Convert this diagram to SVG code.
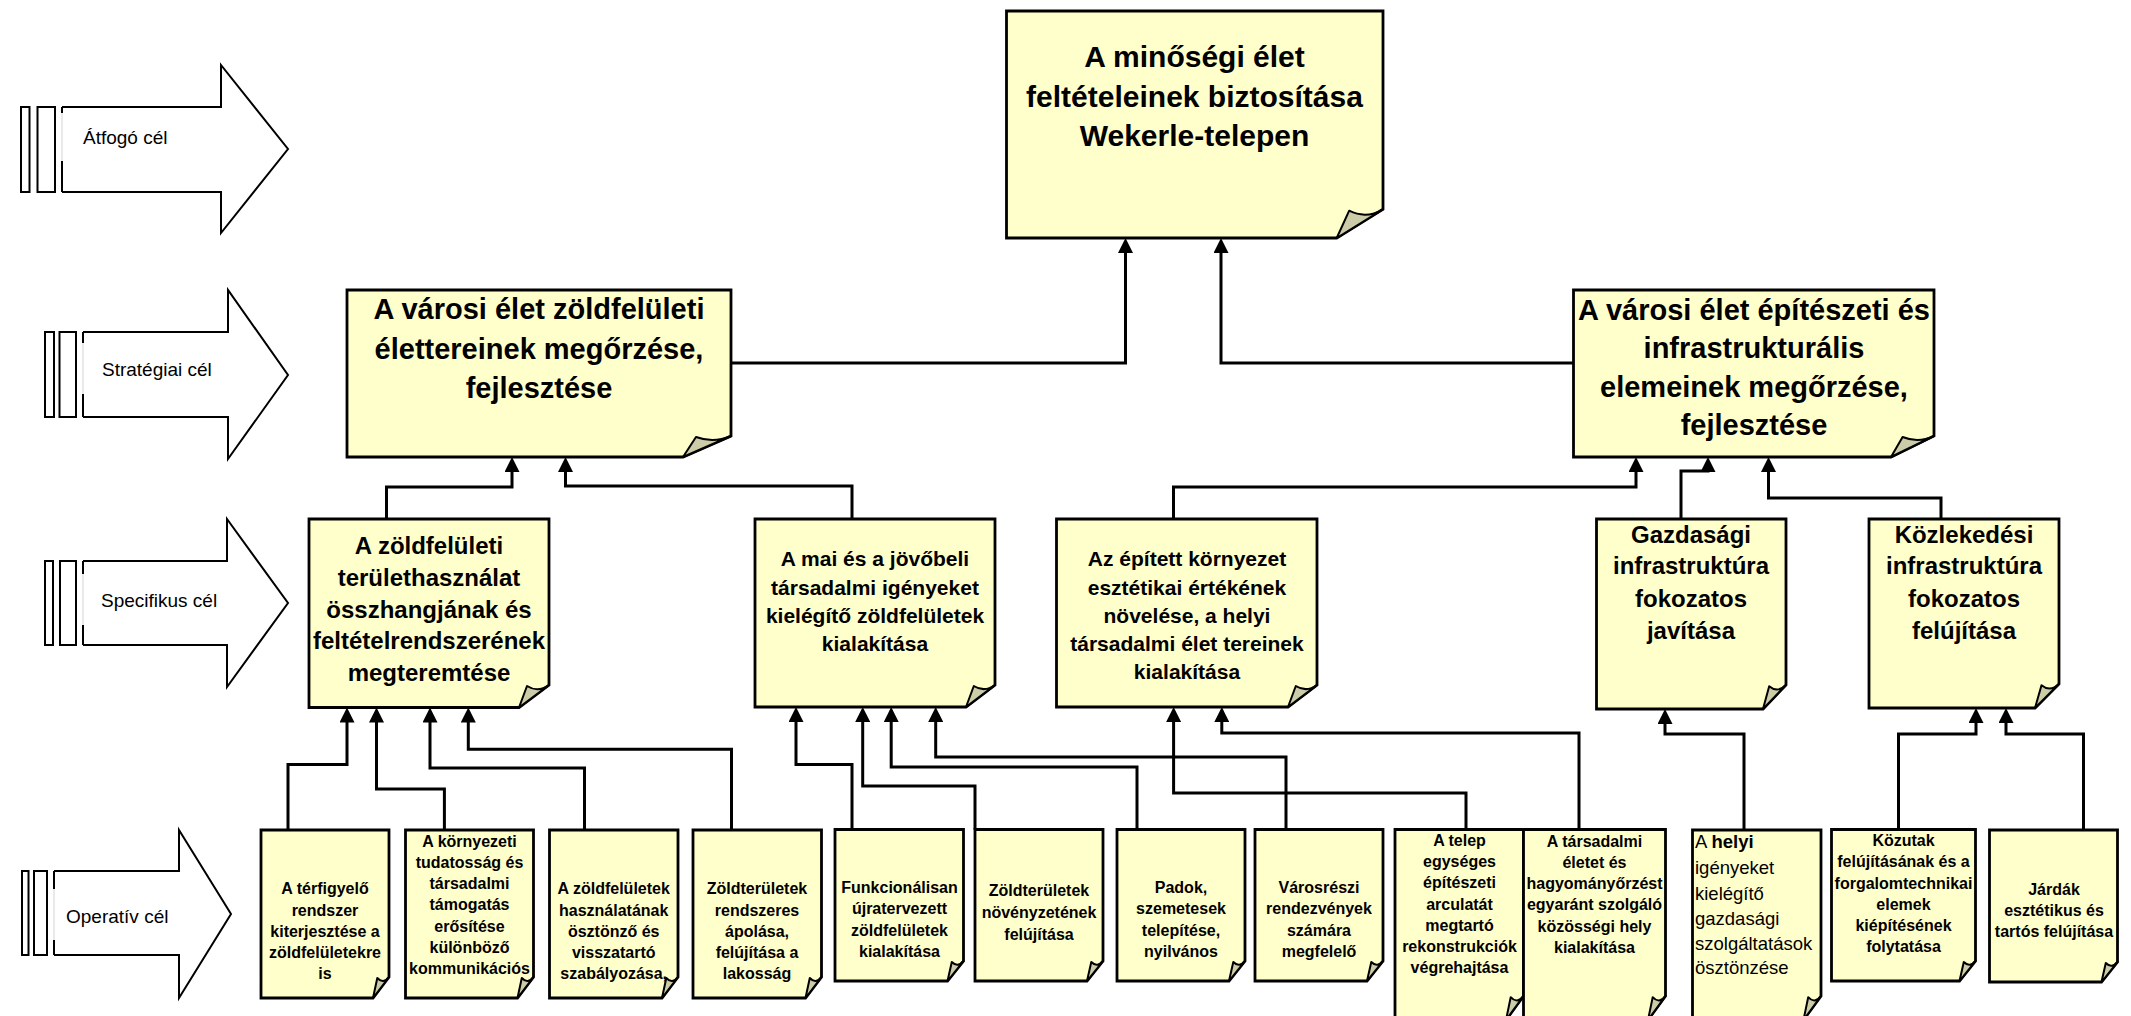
<svg xmlns="http://www.w3.org/2000/svg" width="2131" height="1016" viewBox="0 0 2131 1016">
<defs>
<style>
.box{fill:#FFFFCC;stroke:#000;stroke-width:2.8;stroke-linejoin:miter}
.fold{fill:#CCCCA8;stroke:#000;stroke-width:2;stroke-linejoin:round}
.conn{fill:none;stroke:#000;stroke-width:3;marker-end:url(#ah)}
.arr{fill:#fff;stroke:#000;stroke-width:2}
.bar{fill:#fff;stroke:#000;stroke-width:2}
.gap{stroke:#d4d4d4;stroke-width:1}
.lbl{font-family:"Liberation Sans",Arial,sans-serif;font-size:19px;fill:#000}
.t{font-family:"Liberation Sans",Arial,sans-serif;font-weight:bold;fill:#000;text-anchor:middle}
.t30{font-size:30px}.t29{font-size:29px}.t24{font-size:24px}.t21{font-size:21px}.t16{font-size:16px}
.r{font-family:"Liberation Sans",Arial,sans-serif;font-size:18.5px;fill:#000}
</style>
<marker id="ah" viewBox="0 0 15 15" refX="7" refY="7.5" markerWidth="15" markerHeight="15" markerUnits="userSpaceOnUse" orient="auto">
<path d="M0,0 L15,7.5 L0,15 Z" fill="#000"/>
</marker>
</defs>
<rect width="2131" height="1016" fill="#fff"/>

<g id="level-labels">
<g id="lbl-atfogo">
<rect class="bar" x="21" y="107" width="8.5" height="85"/>
<rect class="bar" x="37.5" y="107" width="17.5" height="85"/>
<polyline class="arr" points="62,107 221,107 221,65 288,149 221,233 221,192 62,192"/>
<path d="M62,107 V113 M62,161 V192" stroke="#000" stroke-width="2"/>
<path class="gap" d="M62,113 V161"/>
<text class="lbl" x="83" y="144">Átfogó cél</text>
</g>
<g id="lbl-strategiai">
<rect class="bar" x="45" y="332" width="9" height="85"/>
<rect class="bar" x="59.5" y="332" width="16.5" height="85"/>
<polyline class="arr" points="83,332 228,332 228,290 288,375 228,459 228,417 83,417"/>
<path d="M83,332 V343 M83,394 V417" stroke="#000" stroke-width="2"/>
<path class="gap" d="M83,343 V394"/>
<text class="lbl" x="102" y="376">Stratégiai cél</text>
</g>
<g id="lbl-specifikus">
<rect class="bar" x="45" y="561" width="8" height="84"/>
<rect class="bar" x="60" y="561" width="16" height="84"/>
<polyline class="arr" points="83,561 227,561 227,519 288,603 227,687 227,645 83,645"/>
<path d="M83,561 V574 M83,625 V645" stroke="#000" stroke-width="2"/>
<path class="gap" d="M83,574 V625"/>
<text class="lbl" x="101" y="607">Specifikus cél</text>
</g>
<g id="lbl-operativ">
<rect class="bar" x="22" y="871" width="6.5" height="84"/>
<rect class="bar" x="34" y="871" width="13" height="84"/>
<polyline class="arr" points="54,871 179,871 179,830 231,914 179,998 179,955 54,955"/>
<path d="M54,871 V889 M54,940 V955" stroke="#000" stroke-width="2"/>
<path class="gap" d="M54,889 V940"/>
<text class="lbl" x="66" y="923">Operatív cél</text>
</g>
</g>

<g id="connectors">
<path class="conn" d="M731,363 H1125.5 V246"/>
<path class="conn" d="M1573.5,363 H1221 V246"/>
<path class="conn" d="M386.5,519 V487 H512 V465"/>
<path class="conn" d="M852,519 V486 H565.5 V465"/>
<path class="conn" d="M1173.5,519 V487 H1636 V465"/>
<path class="conn" d="M1681,519 V471 H1708 V465"/>
<path class="conn" d="M1941,519 V498 H1768.5 V465"/>
<path class="conn" d="M288,830 V764.5 H347 V715.5"/>
<path class="conn" d="M444.4,830 V789 H376.5 V715.5"/>
<path class="conn" d="M584.5,830 V768 H430 V715.5"/>
<path class="conn" d="M731.5,830 V749.3 H468.3 V715.5"/>
<path class="conn" d="M852,829.5 V764.4 H796 V715"/>
<path class="conn" d="M975,829.5 V786 H862.7 V715"/>
<path class="conn" d="M1137,829.5 V767 H891.2 V715"/>
<path class="conn" d="M1286,829.5 V757 H935.7 V715"/>
<path class="conn" d="M1466,829.5 V793 H1173.6 V715"/>
<path class="conn" d="M1579,829.5 V733 H1221.8 V715"/>
<path class="conn" d="M1744,830 V734 H1665 V717"/>
<path class="conn" d="M1898.5,829.5 V734 H1976 V716"/>
<path class="conn" d="M2083.5,830 V734 H2006 V716"/>
</g>

<g id="n-top">
<path class="box" d="M1006.5,11 H1383 V209.3 L1336.7,238 H1006.5 Z"/>
<path class="fold" d="M1336.7,238 L1383,209.3 Q1366.1,219.3 1349.2,210.7 Z"/>
<text class="t t30" x="1194.5" y="66.5">A minőségi élet</text>
<text class="t t30" x="1194.5" y="106.5">feltételeinek biztosítása</text>
<text class="t t30" x="1194.5" y="145.5">Wekerle-telepen</text>
</g>

<g id="n-strat1">
<path class="box" d="M347,290 H731 V436 L683,457 H347 Z"/>
<path class="fold" d="M683,457 L731,436 Q713.5,443.4 696,437 Z"/>
<text class="t t29" x="539" y="319">A városi élet zöldfelületi</text>
<text class="t t29" x="539" y="359">élettereinek megőrzése,</text>
<text class="t t29" x="539" y="398">fejlesztése</text>
</g>

<g id="n-strat2">
<path class="box" d="M1573.5,290 H1934 V436 L1891,457 H1573.5 Z"/>
<path class="fold" d="M1891,457 L1934,436 Q1918.3,443.4 1902.6,437 Z"/>
<text class="t t29" x="1754" y="320">A városi élet építészeti és</text>
<text class="t t29" x="1754" y="358">infrastrukturális</text>
<text class="t t29" x="1754" y="397">elemeinek megőrzése,</text>
<text class="t t29" x="1754" y="435">fejlesztése</text>
</g>

<g id="n-spec1">
<path class="box" d="M309,519 H549 V685 L519,707.5 H309 Z"/>
<path class="fold" d="M519,707.5 L549,685 Q538,693 527,686 Z"/>
<text class="t t24" x="429" y="553.5">A zöldfelületi</text>
<text class="t t24" x="429" y="585.5">területhasználat</text>
<text class="t t24" x="429" y="617.5">összhangjának és</text>
<text class="t t24" x="429" y="648.5">feltételrendszerének</text>
<text class="t t24" x="429" y="680.5">megteremtése</text>
</g>

<g id="n-spec2">
<path class="box" d="M755,519 H995 V685 L966,707 H755 Z"/>
<path class="fold" d="M966,707 L995,685 Q984.4,692.7 973.8,686 Z"/>
<text class="t t21" x="875" y="566">A mai és a jövőbeli</text>
<text class="t t21" x="875" y="594.5">társadalmi igényeket</text>
<text class="t t21" x="875" y="622.5">kielégítő zöldfelületek</text>
<text class="t t21" x="875" y="651">kialakítása</text>
</g>

<g id="n-spec3">
<path class="box" d="M1056.5,519 H1317 V685 L1288,707 H1056.5 Z"/>
<path class="fold" d="M1288,707 L1317,685 Q1306.4,692.7 1295.8,686 Z"/>
<text class="t t21" x="1187" y="566">Az épített környezet</text>
<text class="t t21" x="1187" y="594.5">esztétikai értékének</text>
<text class="t t21" x="1187" y="622.5">növelése, a helyi</text>
<text class="t t21" x="1187" y="651">társadalmi élet tereinek</text>
<text class="t t21" x="1187" y="679">kialakítása</text>
</g>

<g id="n-gazd">
<path class="box" d="M1596.5,519 H1786 V685 L1763,709 H1596.5 Z"/>
<path class="fold" d="M1763,709 L1786,685 Q1777.6,693.4 1769.2,686.2 Z"/>
<text class="t t24" x="1691" y="543">Gazdasági</text>
<text class="t t24" x="1691" y="574">infrastruktúra</text>
<text class="t t24" x="1691" y="606.5">fokozatos</text>
<text class="t t24" x="1691" y="639">javítása</text>
</g>

<g id="n-kozl">
<path class="box" d="M1869,519 H2059 V684 L2035,708 H1869 Z"/>
<path class="fold" d="M2035,708 L2059,684 Q2050.2,692.4 2041.5,685.2 Z"/>
<text class="t t24" x="1964" y="543">Közlekedési</text>
<text class="t t24" x="1964" y="574">infrastruktúra</text>
<text class="t t24" x="1964" y="606.5">fokozatos</text>
<text class="t t24" x="1964" y="639">felújítása</text>
</g>

<g id="n-op1">
<path class="box" d="M261,830 H389 V977 L373,998 H261 Z"/>
<path class="fold" d="M373,998 L389,977 Q383.2,984.4 377.3,978 Z"/>
<text class="t t16" x="325" y="894">A térfigyelő</text>
<text class="t t16" x="325" y="915.5">rendszer</text>
<text class="t t16" x="325" y="936.5">kiterjesztése a</text>
<text class="t t16" x="325" y="957.5">zöldfelületekre</text>
<text class="t t16" x="325" y="978.5">is</text>
</g>

<g id="n-op2">
<path class="box" d="M405.5,830 H533.5 V977 L517.5,998 H405.5 Z"/>
<path class="fold" d="M517.5,998 L533.5,977 Q527.7,984.4 521.8,978 Z"/>
<text class="t t16" x="469.5" y="846.5">A környezeti</text>
<text class="t t16" x="469.5" y="867.7">tudatosság és</text>
<text class="t t16" x="469.5" y="889">társadalmi</text>
<text class="t t16" x="469.5" y="910">támogatás</text>
<text class="t t16" x="469.5" y="931.5">erősítése</text>
<text class="t t16" x="469.5" y="952.7">különböző</text>
<text class="t t16" x="469.5" y="974">kommunikációs</text>
</g>

<g id="n-op3">
<path class="box" d="M549.5,830 H678 V977 L662,998 H549.5 Z"/>
<path class="fold" d="M662,998 L678,977 Q672.2,984.4 666.3,978 Z"/>
<text class="t t16" x="613.7" y="894">A zöldfelületek</text>
<text class="t t16" x="613.7" y="915.5">használatának</text>
<text class="t t16" x="613.7" y="936.5">ösztönző és</text>
<text class="t t16" x="613.7" y="957.5">visszatartó</text>
<text class="t t16" x="613.7" y="978.5">szabályozása,</text>
</g>

<g id="n-op4">
<path class="box" d="M693,830 H821.5 V977 L805.5,998 H693 Z"/>
<path class="fold" d="M805.5,998 L821.5,977 Q815.7,984.4 809.8,978 Z"/>
<text class="t t16" x="757" y="894">Zöldterületek</text>
<text class="t t16" x="757" y="915.5">rendszeres</text>
<text class="t t16" x="757" y="936.5">ápolása,</text>
<text class="t t16" x="757" y="957.5">felújítása a</text>
<text class="t t16" x="757" y="978.5">lakosság</text>
</g>

<g id="n-op5">
<path class="box" d="M835,829.5 H963.5 V961 L947.5,981 H835 Z"/>
<path class="fold" d="M947.5,981 L963.5,961 Q957.7,968 951.8,962 Z"/>
<text class="t t16" x="899.5" y="893">Funkcionálisan</text>
<text class="t t16" x="899.5" y="914">újratervezett</text>
<text class="t t16" x="899.5" y="935.5">zöldfelületek</text>
<text class="t t16" x="899.5" y="956.7">kialakítása</text>
</g>

<g id="n-op6">
<path class="box" d="M975,829.5 H1103 V961 L1087,981 H975 Z"/>
<path class="fold" d="M1087,981 L1103,961 Q1097.2,968 1091.3,962 Z"/>
<text class="t t16" x="1039" y="895.7">Zöldterületek</text>
<text class="t t16" x="1039" y="918">növényzetének</text>
<text class="t t16" x="1039" y="939.5">felújítása</text>
</g>

<g id="n-op7">
<path class="box" d="M1117,829.5 H1245 V961 L1229,981 H1117 Z"/>
<path class="fold" d="M1229,981 L1245,961 Q1239.2,968 1233.3,962 Z"/>
<text class="t t16" x="1181" y="893">Padok,</text>
<text class="t t16" x="1181" y="914">szemetesek</text>
<text class="t t16" x="1181" y="935.5">telepítése,</text>
<text class="t t16" x="1181" y="956.7">nyilvános</text>
</g>

<g id="n-op8">
<path class="box" d="M1255,829.5 H1383 V961 L1367,981 H1255 Z"/>
<path class="fold" d="M1367,981 L1383,961 Q1377.2,968 1371.3,962 Z"/>
<text class="t t16" x="1319" y="893">Városrészi</text>
<text class="t t16" x="1319" y="914">rendezvények</text>
<text class="t t16" x="1319" y="935.5">számára</text>
<text class="t t16" x="1319" y="956.7">megfelelő</text>
</g>

<g id="n-op9">
<path class="box" d="M1395,829.5 H1523.5 V996 L1506,1020 H1395 Z"/>
<path class="fold" d="M1506,1020 L1523.5,996 Q1517.1,1004.4 1510.7,997.2 Z"/>
<text class="t t16" x="1459.5" y="845.5">A telep</text>
<text class="t t16" x="1459.5" y="866.9">egységes</text>
<text class="t t16" x="1459.5" y="888.4">építészeti</text>
<text class="t t16" x="1459.5" y="909.7">arculatát</text>
<text class="t t16" x="1459.5" y="930.9">megtartó</text>
<text class="t t16" x="1459.5" y="951.7">rekonstrukciók</text>
<text class="t t16" x="1459.5" y="972.9">végrehajtása</text>
</g>

<g id="n-op10">
<path class="box" d="M1523.5,829.5 H1665.5 V996 L1648,1020 H1523.5 Z"/>
<path class="fold" d="M1648,1020 L1665.5,996 Q1659.1,1004.4 1652.7,997.2 Z"/>
<text class="t t16" x="1594.5" y="846.5">A társadalmi</text>
<text class="t t16" x="1594.5" y="867.7">életet és</text>
<text class="t t16" x="1594.5" y="889">hagyományőrzést</text>
<text class="t t16" x="1594.5" y="910">egyaránt szolgáló</text>
<text class="t t16" x="1594.5" y="931.5">közösségi hely</text>
<text class="t t16" x="1594.5" y="952.7">kialakítása</text>
</g>

<g id="n-op11">
<path class="box" d="M1692.5,830 H1821 V996 L1803.5,1020 H1692.5 Z"/>
<path class="fold" d="M1803.5,1020 L1821,996 Q1814.6,1004.4 1808.2,997.2 Z"/>
<text class="r" x="1695" y="848">A <tspan font-weight="bold">helyi</tspan></text>
<text class="r" x="1695" y="874">igényeket</text>
<text class="r" x="1695" y="899.5">kielégítő</text>
<text class="r" x="1695" y="925">gazdasági</text>
<text class="r" x="1695" y="949.5">szolgáltatások</text>
<text class="r" x="1695" y="973.5">ösztönzése</text>
</g>

<g id="n-op12">
<path class="box" d="M1831.5,829.5 H1975.5 V961 L1959.5,981 H1831.5 Z"/>
<path class="fold" d="M1959.5,981 L1975.5,961 Q1969.7,968 1963.8,962 Z"/>
<text class="t t16" x="1903.5" y="845.5">Közutak</text>
<text class="t t16" x="1903.5" y="867">felújításának és a</text>
<text class="t t16" x="1903.5" y="888.5">forgalomtechnikai</text>
<text class="t t16" x="1903.5" y="909.7">elemek</text>
<text class="t t16" x="1903.5" y="931">kiépítésének</text>
<text class="t t16" x="1903.5" y="951.7">folytatása</text>
</g>

<g id="n-op13">
<path class="box" d="M1989.5,830 H2117.5 V962 L2101.5,982 H1989.5 Z"/>
<path class="fold" d="M2101.5,982 L2117.5,962 Q2111.7,969 2105.8,963 Z"/>
<text class="t t16" x="2054" y="895.3">Járdák</text>
<text class="t t16" x="2054" y="915.7">esztétikus és</text>
<text class="t t16" x="2054" y="937">tartós felújítása</text>
</g>
</svg>
